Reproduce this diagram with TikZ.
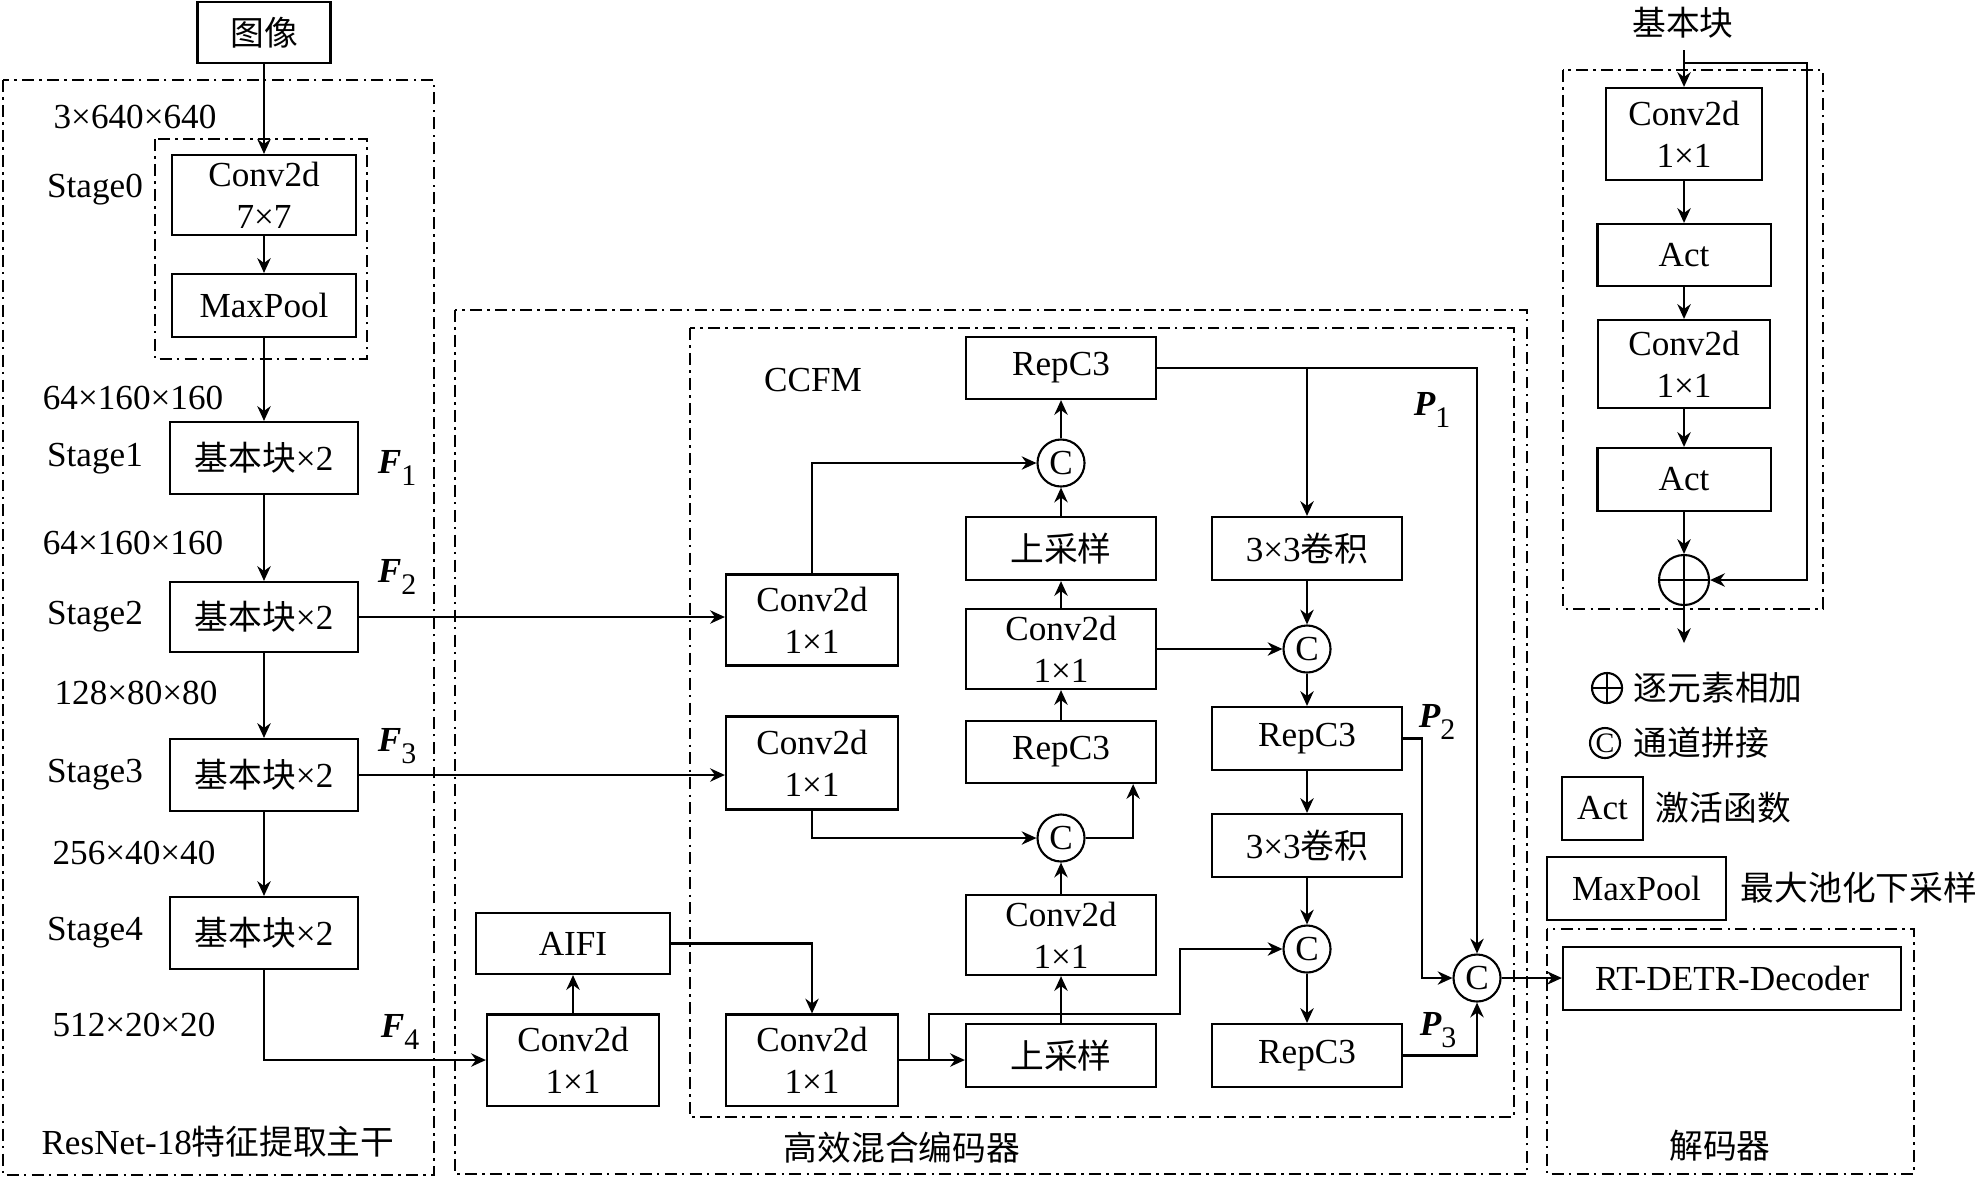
\documentclass[tikz,border=0pt]{standalone}
\usepackage{fontspec}
\setmainfont{Liberation Serif}
\newfontfamily\cjk[Scale=0.96]{Noto Sans CJK SC}
\usetikzlibrary{arrows.meta, calc}

\newcommand{\feat}[2]{{\bfseries\itshape #1}\raisebox{-0.7ex}{\fontsize{8.5}{8.5}\selectfont #2}}

\begin{document}
\begin{tikzpicture}[x=0.01cm, y=-0.01cm,
  font=\fontsize{10}{12}\selectfont,
  box/.style={draw, line width=0.6pt, inner sep=0pt, align=center},
  stg/.style={box, minimum width=1.88cm, minimum height=0.72cm},
  conv/.style={box, minimum width=1.72cm, minimum height=0.91cm},
  mid/.style={box, minimum width=1.90cm, minimum height=0.63cm},
  dd/.style={line width=0.6pt, dash pattern=on 3.4pt off 1.5pt on 0.7pt off 1.5pt},
  arr/.style={line width=0.6pt, -{Stealth[length=4.2pt, width=3.8pt]}},
  ln/.style={line width=0.6pt},
  cat/.style={draw, line width=0.6pt, circle, inner sep=0pt, minimum size=0.47cm},
  addop/.style={draw, line width=0.6pt, circle, inner sep=0pt, minimum size=#1,
    path picture={\draw (path picture bounding box.north) -- (path picture bounding box.south)
      (path picture bounding box.west) -- (path picture bounding box.east);}},
  addop/.default=0.5cm,
  lbl/.style={inner sep=0pt},
]
\useasboundingbox (0,0) rectangle (1980,1178);

% backbone
\node[box, minimum width=1.33cm, minimum height=0.61cm] (img) at (264,32.5) {\cjk 图像};
\draw[dd] (3,80) rectangle (434,1175);
\draw[dd] (155,139) rectangle (367,359);
\node[box, minimum width=1.84cm, minimum height=0.80cm] (c7) at (264,195) {Conv2d\\7×7};
\node[box, minimum width=1.84cm, minimum height=0.63cm] (mp) at (264,305.5) {MaxPool};
\node[stg] (s1) at (264,458) {{\cjk 基本块}×2};
\node[stg, minimum height=0.70cm] (s2) at (264,617) {{\cjk 基本块}×2};
\node[stg] (s3) at (264,775) {{\cjk 基本块}×2};
\node[stg] (s4) at (264,933) {{\cjk 基本块}×2};

\node (d0) at (135,117) {3×640×640};
\node (d1) at (133,398) {64×160×160};
\node (d2) at (133,543) {64×160×160};
\node (d3) at (136,693) {128×80×80};
\node (d4) at (134,853) {256×40×40};
\node (d5) at (134,1025) {512×20×20};

\node (st0) at (95,190) {Stage0};
\node (st1) at (95,459) {Stage1};
\node (st2) at (95,617) {Stage2};
\node (st3) at (95,775) {Stage3};
\node (st4) at (95,933) {Stage4};

\node (f1) at (397,468) {\feat{F}{1}};
\node (f2) at (397,577) {\feat{F}{2}};
\node (f3) at (397,746) {\feat{F}{3}};
\node (f4) at (400,1032) {\feat{F}{4}};
\node (bbl) at (218,1142) {ResNet-18{\cjk 特征提取主干}};

% hybrid encoder
\draw[dd] (455,310) rectangle (1527,1174);
\draw[dd] (690,328) rectangle (1514,1117);
\node (encl) at (902,1148) {\cjk 高效混合编码器};
\node (ccfm) at (813,380) {CCFM};

\node[conv] (cv4) at (573,1060) {Conv2d\\1×1};
\node[box, minimum width=1.94cm, minimum height=0.61cm] (aifi) at (573,943.5) {AIFI};
\node[conv] (lat2) at (812,620) {Conv2d\\1×1};
\node[conv, minimum height=0.93cm] (lat3) at (812,763) {Conv2d\\1×1};
\node[conv] (lat4) at (812,1060) {Conv2d\\1×1};

\node[mid, minimum height=0.62cm] (rep1) at (1061,368) {RepC3};
\node[cat] (cat1) at (1061,463) {C};
\node[mid] (up1) at (1061,548.5) {\cjk 上采样};
\node[mid, minimum height=0.80cm] (cv1) at (1061,649) {Conv2d\\1×1};
\node[mid, minimum height=0.62cm] (rep2) at (1061,752) {RepC3};
\node[cat] (cat2) at (1061,838) {C};
\node[mid, minimum height=0.80cm] (cv2) at (1061,935) {Conv2d\\1×1};
\node[mid] (up2) at (1061,1055.5) {\cjk 上采样};

\node[mid] (dw1) at (1307,548.5) {3×3{\cjk 卷积}};
\node[cat] (cat3) at (1307,649) {C};
\node[mid] (rep3) at (1307,738.5) {RepC3};
\node[mid] (dw2) at (1307,845.5) {3×3{\cjk 卷积}};
\node[cat] (cat4) at (1307,949) {C};
\node[mid] (rep4) at (1307,1055.5) {RepC3};
\node[cat] (cat5) at (1477,978) {C};

\node (p1) at (1432,410) {\feat{P}{1}};
\node (p2) at (1437,722) {\feat{P}{2}};
\node (p3) at (1438,1030) {\feat{P}{3}};

% decoder
\draw[dd] (1547,929) rectangle (1914,1174);
\node[box, minimum width=3.38cm, minimum height=0.63cm] (dec) at (1732,978.5) {RT-DETR-Decoder};
\node (decl) at (1720,1146) {\cjk 解码器};

% basic block
\node (bbt) at (1683,23) {\cjk 基本块};
\draw[dd] (1563,70) rectangle (1823,609);
\node[box, minimum width=1.56cm, minimum height=0.92cm] (bc1) at (1684,134) {Conv2d\\1×1};
\node[box, minimum width=1.73cm, minimum height=0.62cm] (ba1) at (1684,255) {Act};
\node[box, minimum width=1.72cm, minimum height=0.88cm] (bc2) at (1684,364) {Conv2d\\1×1};
\node[box, minimum width=1.73cm, minimum height=0.63cm] (ba2) at (1684,479.5) {Act};
\node[addop] (add) at (1684,580) {};
\coordinate (bin) at (1684,50);
\coordinate (skip) at (1684,63);
\coordinate (bout) at (1684,643);

% legend
\node[addop=0.3cm] (lgadd) at (1607,688) {};
\node[lbl, anchor=west] (lgaddt) at (1633,688) {\cjk 逐元素相加};
\node[cat, minimum size=0.3cm, font=\fontsize{8}{8}\selectfont] (lgcat) at (1605,743) {C};
\node[lbl, anchor=west] (lgcatt) at (1633,743) {\cjk 通道拼接};
\node[box, minimum width=0.81cm, minimum height=0.63cm] (lgact) at (1602.5,808.5) {Act};
\node[lbl, anchor=west] (lgactt) at (1655,808) {\cjk 激活函数};
\node[box, minimum width=1.79cm, minimum height=0.63cm] (lgmp) at (1636.5,888.5) {MaxPool};
\node[lbl, anchor=west] (lgmpt) at (1740,888) {\cjk 最大池化下采样};

% connections
\draw[arr] (img) -- (c7);
\draw[arr] (c7) -- (mp);
\draw[arr] (mp) -- (s1);
\draw[arr] (s1) -- (s2);
\draw[arr] (s2) -- (s3);
\draw[arr] (s3) -- (s4);
\draw[arr] (s2.east) -- (s2.east -| lat2.west);
\draw[arr] (s3.east) -- (s3.east -| lat3.west);
\draw[arr] (s4.south) |- (cv4.west);
\draw[arr] (cv4) -- (aifi);
\draw[arr] (aifi.east) -| (lat4.north);

\draw[arr] (lat2.north) |- (cat1.west);
\draw[arr] (up1) -- (cat1);
\draw[arr] (cat1) -- (rep1);
\draw[arr] (cv1) -- (up1);
\draw[arr] (rep2) -- (cv1);
\draw[arr] (lat3.south) |- (cat2.west);
\draw[arr] (cat2.east) -| ($(rep2.south east)+(-24,0)$);
\draw[arr] (cv2) -- (cat2);
\draw[arr] (up2) -- (cv2);
\draw[arr] (lat4.east) -- (lat4.east -| up2.west);
\coordinate (br) at ($(lat4.east)+(30,0)$);
\coordinate (bk) at (1180,1014);
\draw[arr] (br) |- (bk) |- (cat4.west);

\draw[arr] (rep1.east) -| (cat5.north);
\draw[arr] (rep1.east -| dw1.north) -- (dw1.north);
\draw[arr] (dw1) -- (cat3);
\draw[arr] (cv1.east) -- (cat3.west);
\draw[arr] (cat3) -- (rep3);
\draw[arr] (rep3) -- (dw2);
\draw[arr] (dw2) -- (cat4);
\draw[arr] (cat4) -- (rep4);
\draw[arr] (rep3.east) -- ++(19,0) |- (cat5.west);
\draw[arr] (rep4.east) -| (cat5.south);
\draw[arr] (cat5.east) -- (cat5.east -| dec.west);

\draw[arr] (bin) -- (bc1);
\draw[arr] (bc1) -- (ba1);
\draw[arr] (ba1) -- (bc2);
\draw[arr] (bc2) -- (ba2);
\draw[arr] (ba2) -- (add);
\draw[arr] (skip) -- ++(123,0) |- (add.east);
\draw[arr] (add) -- (bout);
\end{tikzpicture}
\end{document}
